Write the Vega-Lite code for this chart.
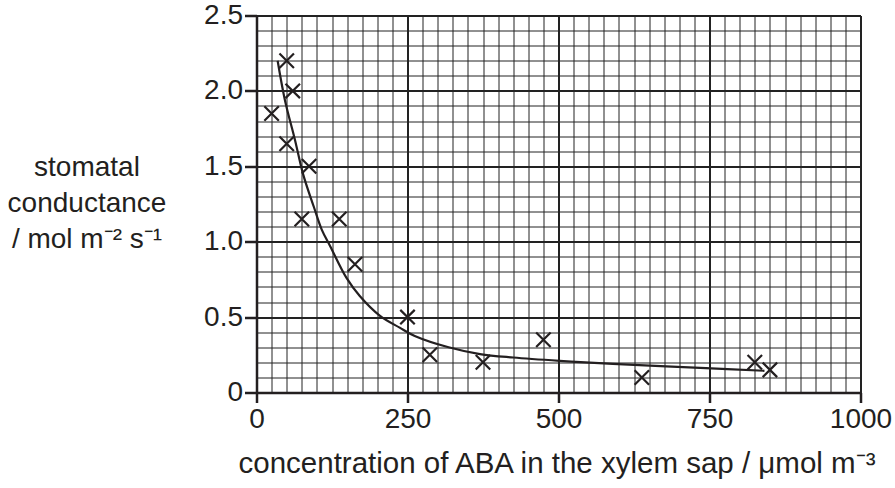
{
  "$schema": "https://vega.github.io/schema/vega-lite/v6.json",
  "width": 604,
  "height": 377,
  "autosize": "none",
  "padding": {"left": 256.5, "top": 15.5, "right": 34.5, "bottom": 95.5},
  "background": "white",
  "config": {
    "view": {"stroke": null},
    "font": "Liberation Sans",
    "axis": {
      "labelFont": "Liberation Sans",
      "titleFont": "Liberation Sans",
      "labelColor": "#231f20",
      "titleColor": "#231f20",
      "labelFontSize": 28,
      "titleFontSize": 28,
      "titleFontWeight": "normal",
      "domainColor": "#231f20",
      "domainWidth": 2.5,
      "tickColor": "#231f20",
      "labelOverlap": false,
      "labelFlush": false,
      "labelBound": false
    }
  },
  "datasets": {
    "points": [
      {"aba": 25, "gs": 1.85},
      {"aba": 50, "gs": 2.2},
      {"aba": 60, "gs": 2.0},
      {"aba": 50, "gs": 1.65},
      {"aba": 87, "gs": 1.5},
      {"aba": 75, "gs": 1.15},
      {"aba": 137, "gs": 1.15},
      {"aba": 163, "gs": 0.85},
      {"aba": 250, "gs": 0.5},
      {"aba": 287, "gs": 0.25},
      {"aba": 375, "gs": 0.2},
      {"aba": 475, "gs": 0.35},
      {"aba": 638, "gs": 0.1},
      {"aba": 825, "gs": 0.2},
      {"aba": 850, "gs": 0.15}
    ],
    "curve": [
      {"aba": 35, "gs": 2.2},
      {"aba": 47, "gs": 1.94},
      {"aba": 64, "gs": 1.67},
      {"aba": 77, "gs": 1.45},
      {"aba": 95, "gs": 1.23},
      {"aba": 108, "gs": 1.08},
      {"aba": 122, "gs": 0.97},
      {"aba": 149, "gs": 0.76},
      {"aba": 171, "gs": 0.64},
      {"aba": 204, "gs": 0.51},
      {"aba": 237, "gs": 0.43},
      {"aba": 262, "gs": 0.375},
      {"aba": 318, "gs": 0.3},
      {"aba": 370, "gs": 0.255},
      {"aba": 425, "gs": 0.232},
      {"aba": 502, "gs": 0.21},
      {"aba": 590, "gs": 0.19},
      {"aba": 744, "gs": 0.162},
      {"aba": 841, "gs": 0.144}
    ]
  },
  "encoding": {
    "x": {
      "field": "aba",
      "type": "quantitative",
      "scale": {"domain": [0, 1000], "nice": false, "zero": false},
      "axis": {
        "values": [0,25,50,75,100,125,150,175,200,225,250,275,300,325,350,375,400,425,450,475,500,525,550,575,600,625,650,675,700,725,750,775,800,825,850,875,900,925,950,975,1000],
        "grid": true,
        "gridColor": "#222222",
        "gridWidth": {"condition": {"test": "datum.value % 250 === 0", "value": 2}, "value": 1},
        "tickSize": 10,
        "tickWidth": 2.5,
        "tickOpacity": {"condition": {"test": "datum.value % 250 === 0", "value": 1}, "value": 0},
        "labelExpr": "datum.value % 250 === 0 ? format(datum.value, 'd') : ''",
        "labelPadding": 3,
        "title": "concentration of ABA in the xylem sap / μmol m⁻³",
        "titleFontSize": 29.5,
        "titleBaseline": "alphabetic",
        "titleAnchor": "middle",
        "titleY": 80,
        "titleX": 300
      }
    },
    "y": {
      "field": "gs",
      "type": "quantitative",
      "scale": {"domain": [0, 2.5], "nice": false},
      "axis": {
        "values": [0,0.1,0.2,0.3,0.4,0.5,0.6,0.7,0.8,0.9,1.0,1.1,1.2,1.3,1.4,1.5,1.6,1.7,1.8,1.9,2.0,2.1,2.2,2.3,2.4,2.5],
        "grid": true,
        "gridColor": "#222222",
        "gridWidth": {"condition": {"test": "abs(datum.value*2 - round(datum.value*2)) < 0.001", "value": 2}, "value": 1},
        "tickSize": 12,
        "tickWidth": 2.5,
        "tickOpacity": {"condition": {"test": "abs(datum.value*2 - round(datum.value*2)) < 0.001", "value": 1}, "value": 0},
        "labelExpr": "abs(datum.value*2 - round(datum.value*2)) < 0.001 ? (datum.value === 0 ? '0' : format(datum.value, '.1f')) : ''",
        "labelPadding": 2,
        "title": ["stomatal", "conductance", "/ mol m⁻² s⁻¹"],
        "titleAngle": 0,
        "titleAlign": "center",
        "titleBaseline": "alphabetic",
        "titleLineHeight": 36,
        "titleX": -170,
        "titleY": 159.5
      }
    }
  },
  "layer": [
    {
      "data": {"name": "curve"},
      "mark": {"type": "line", "interpolate": "catmull-rom", "color": "#231f20", "strokeWidth": 2.2}
    },
    {
      "data": {"name": "points"},
      "mark": {"type": "point", "shape": "M-1,-1L1,1M-1,1L1,-1", "filled": false, "stroke": "#231f20", "strokeWidth": 2.2, "size": 210, "opacity": 1}
    }
  ]
}
